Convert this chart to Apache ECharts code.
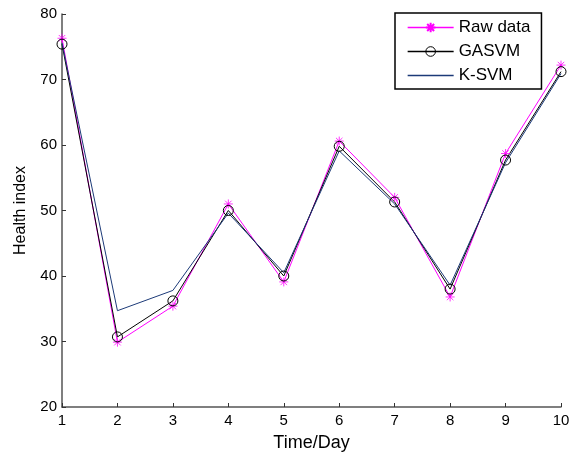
<!DOCTYPE html>
<html><head><meta charset="utf-8">
<script src="https://cdn.jsdelivr.net/npm/echarts@6/dist/echarts.min.js"></script>
<style>html,body{margin:0;padding:0;background:#fff}#c{width:574px;height:453px}</style>
</head><body><div id="c"></div>
<script>
var days = [1,2,3,4,5,6,7,8,9,10];
var rawData = [76.3,29.9,35.4,51.0,39.1,60.6,52.0,36.8,58.7,72.2];
var gasvm   = [75.4,30.7,36.2,50.0,40.0,59.8,51.3,38.0,57.7,71.2];
var ksvm    = [75.6,34.7,37.8,49.6,40.5,59.1,51.0,38.6,57.3,70.9];
var yTicks = [20,30,40,50,60,70,80];
var seriesNames = ['Raw data','GASVM','K-SVM'];

function pairs(v){ return days.map(function(d,i){return [d, v[i]];}); }
var star = 'path://M0,-5L0,5M-5,0L5,0M-3.6,-3.6L3.6,3.6M-3.6,3.6L3.6,-3.6';
var font = 'Liberation Sans, Arial, sans-serif';
var chart = echarts.init(document.getElementById('c'));
chart.setOption({
  animation:false,
  grid:{left:62,right:13,top:14,bottom:46,containLabel:false,outerBoundsMode:'none'},
  legend:{
    orient:'vertical', left:395, top:13,
    data:[
      {name:seriesNames[0]},
      {name:seriesNames[1], itemStyle:{color:'rgba(0,0,0,0)',borderColor:'#000',borderWidth:1}},
      {name:seriesNames[2], itemStyle:{color:'rgba(0,0,0,0)',borderColor:'rgba(0,0,0,0)',borderWidth:0}}
    ],
    lineStyle:{width:1.3},
    borderColor:'#000', borderWidth:1.5, padding:[6,11,5,12],
    itemWidth:46, itemHeight:12, itemGap:7,
    textStyle:{fontFamily:font,fontSize:17,color:'#000'}
  },
  xAxis:{
    type:'value', min:1, max:10, interval:1,
    name:'Time/Day', nameLocation:'middle', nameGap:27,
    nameTextStyle:{fontFamily:font,fontSize:18,color:'#000'},
    axisLine:{lineStyle:{color:'#555',width:1.5}},
    axisTick:{inside:true,length:4,lineStyle:{color:'#333'}},
    axisLabel:{fontFamily:font,fontSize:15,color:'#000',margin:6},
    splitLine:{show:false}
  },
  yAxis:{
    type:'value', min:yTicks[0], max:yTicks[yTicks.length-1], interval:10,
    name:'Health index', nameLocation:'middle', nameGap:33, nameRotate:90,
    nameTextStyle:{fontFamily:font,fontSize:16,color:'#000'},
    axisLine:{show:true,lineStyle:{color:'#555',width:1.5}},
    axisTick:{show:true,inside:true,length:4,lineStyle:{color:'#333'}},
    axisLabel:{fontFamily:font,fontSize:15,color:'#000',margin:5},
    splitLine:{show:false}
  },
  series:[
    {name:seriesNames[0],type:'line',data:pairs(rawData),symbol:star,symbolSize:9,
     lineStyle:{color:'#ff00ff',width:1},
     itemStyle:{color:'#ff00ff',borderColor:'#ff00ff',borderWidth:0.8}},
    {name:seriesNames[1],type:'line',data:pairs(gasvm),symbol:'circle',symbolSize:10,
     lineStyle:{color:'#000',width:1},
     itemStyle:{color:'rgba(0,0,0,0)',borderColor:'#000',borderWidth:1}},
    {name:seriesNames[2],type:'line',data:pairs(ksvm),symbol:'none',
     lineStyle:{color:'#1c3a78',width:1},
     itemStyle:{color:'#1c3a78'}}
  ]
});
</script></body></html>
